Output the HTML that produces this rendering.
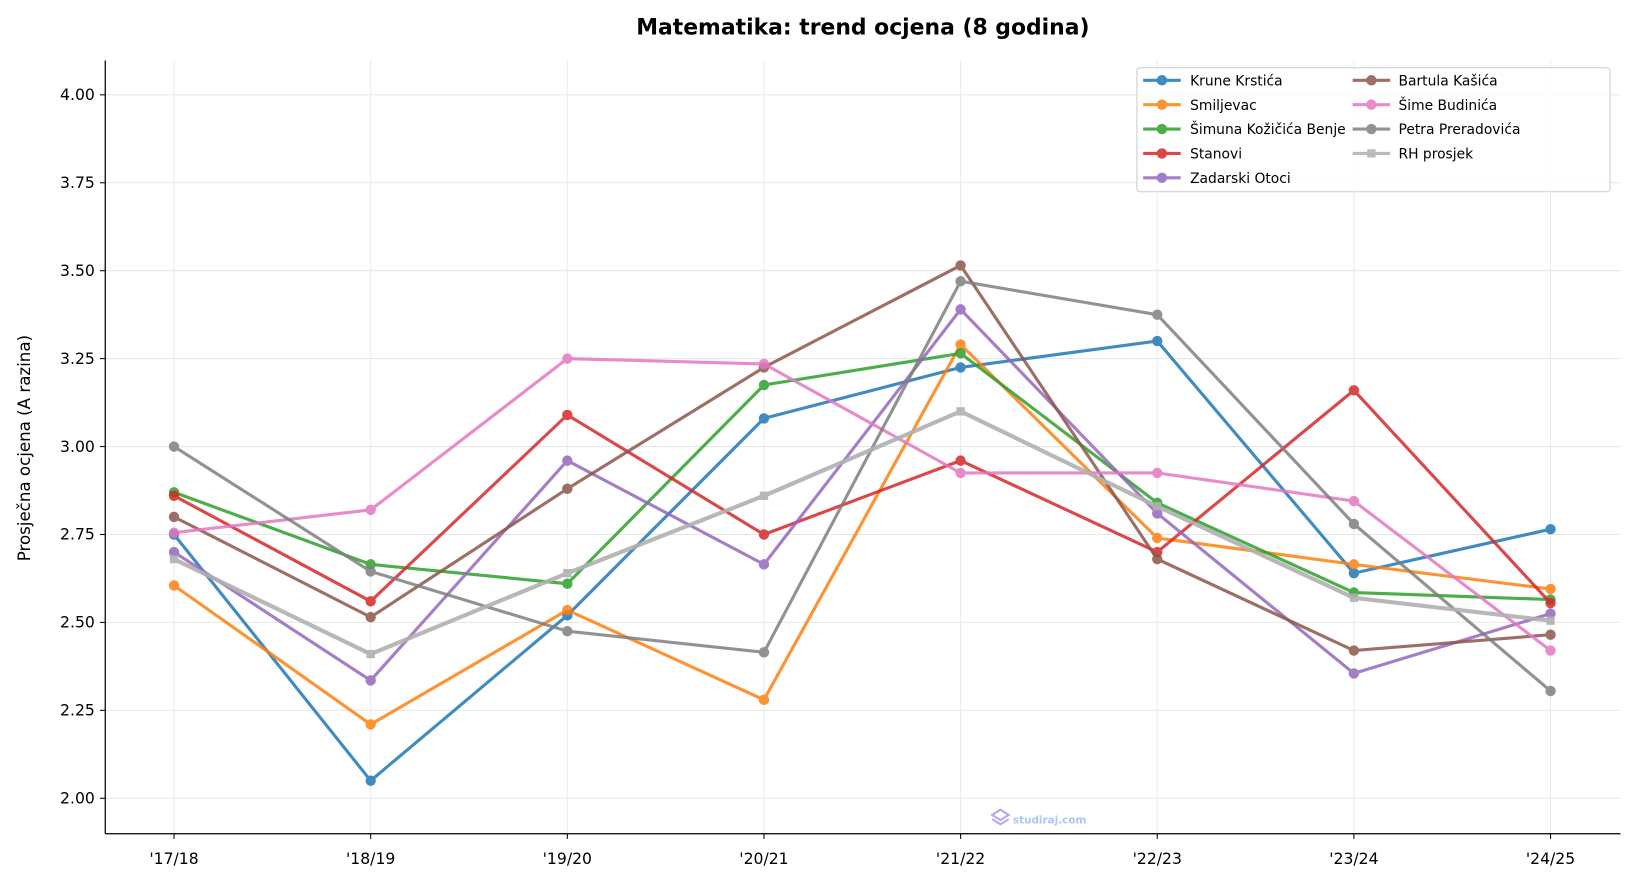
<!DOCTYPE html>
<html><head><meta charset="utf-8"><style>
body{margin:0;background:#fff;}
svg{display:block;font-family:"DejaVu Sans","Liberation Sans",sans-serif;}
</style></head><body>
<svg id="s" width="1634" height="883" viewBox="0 0 1568 847.3" xmlns="http://www.w3.org/2000/svg">
<text x="828" y="33" text-anchor="middle" font-size="21" font-weight="bold">Matematika: trend ocjena (8 godina)</text>
<text transform="translate(29,430) rotate(-90)" text-anchor="middle" font-size="16">Prosječna ocjena (A razina)</text>
<g id="grid"></g><g id="series"></g>
<text x="972" y="790" font-size="10" font-weight="bold" fill="#a9c8f5">studiraj.com</text>
<path d="M952 782 l8 -5 l8 5 l-8 5 z M952 786 l8 5 l8 -5" fill="none" stroke="#b9a8f0" stroke-width="2"/>
<line x1="101" y1="58" x2="101" y2="800" stroke="#000" stroke-width="1.2"/>
<line x1="101" y1="800" x2="1555" y2="800" stroke="#000" stroke-width="1.2"/>
<g id="leg"></g>
</svg>
<script>
const NS="http://www.w3.org/2000/svg";
function el(p,t,a,txt){const e=document.createElementNS(NS,t);for(const k in a)e.setAttribute(k,a[k]);if(txt!==undefined)e.textContent=txt;document.getElementById(p).appendChild(e);return e;}
const X=i=>167+i*188.7, Y=v=>766-(v-2)*337.5;
const xl=["'17/18","'18/19","'19/20","'20/21","'21/22","'22/23","'23/24","'24/25"];
for(let i=0;i<8;i++){el("grid","line",{x1:X(i),y1:58,x2:X(i),y2:800,stroke:"#ebebeb","stroke-width":1});
el("grid","line",{x1:X(i),y1:800,x2:X(i),y2:805,stroke:"#000"});
el("grid","text",{x:X(i),y:829,"text-anchor":"middle","font-size":15},xl[i]);}
for(let k=0;k<9;k++){const v=2+k*0.25,y=Y(v);
el("grid","line",{x1:101,y1:y,x2:1555,y2:y,stroke:"#e6e6e6","stroke-width":1});
el("grid","line",{x1:96,y1:y,x2:101,y2:y,stroke:"#000"});
el("grid","text",{x:91,y:y+5,"text-anchor":"end","font-size":15},v.toFixed(2));}
const S=[
["Krune Krstića","#1f77b4",[2.75,2.05,2.52,3.08,3.225,3.30,2.64,2.765]],
["Smiljevac","#ff7f0e",[2.605,2.21,2.535,2.28,3.29,2.74,2.665,2.595]],
["Šimuna Kožičića Benje","#2ca02c",[2.87,2.665,2.61,3.175,3.265,2.84,2.585,2.565]],
["Stanovi","#d62728",[2.86,2.56,3.09,2.75,2.96,2.70,3.16,2.555]],
["Zadarski Otoci","#9467bd",[2.70,2.335,2.96,2.665,3.39,2.81,2.355,2.525]],
["Bartula Kašića","#8c564b",[2.80,2.515,2.88,3.225,3.515,2.68,2.42,2.465]],
["Šime Budinića","#e377c2",[2.755,2.82,3.25,3.235,2.925,2.925,2.845,2.42]],
["Petra Preradovića","#7f7f7f",[3.00,2.645,2.475,2.415,3.47,3.375,2.78,2.305]],
["RH prosjek","#b0b0b0",[2.68,2.41,2.64,2.86,3.10,2.83,2.57,2.505]]];
S.forEach((s,j)=>{const g=el("series","g",{opacity:j==8?0.9:0.85});
const pts=s[2].map((v,i)=>X(i)+","+Y(v)).join(" ");
const p=document.createElementNS(NS,"polyline");p.setAttribute("points",pts);p.setAttribute("fill","none");p.setAttribute("stroke",s[1]);p.setAttribute("stroke-width",j==8?4:3);g.appendChild(p);
s[2].forEach((v,i)=>{let m;if(j==8){m=document.createElementNS(NS,"rect");m.setAttribute("x",X(i)-4);m.setAttribute("y",Y(v)-4);m.setAttribute("width",8);m.setAttribute("height",8);}else{m=document.createElementNS(NS,"circle");m.setAttribute("cx",X(i));m.setAttribute("cy",Y(v));m.setAttribute("r",5);}m.setAttribute("fill",s[1]);g.appendChild(m);});});
el("leg","rect",{x:1091,y:65,width:454,height:119,fill:"#fff","fill-opacity":0.8,stroke:"#ccc",rx:3});
S.forEach((s,j)=>{const c=j<5?0:1,r=j<5?j:j-5;const lx=c?1298:1097,tx=c?1342:1142,y=77+r*23.4;
const g=el("leg","g",{opacity:0.85});
const l=document.createElementNS(NS,"line");l.setAttribute("x1",lx);l.setAttribute("x2",lx+36);l.setAttribute("y1",y);l.setAttribute("y2",y);l.setAttribute("stroke",s[1]);l.setAttribute("stroke-width",3);g.appendChild(l);
let m;if(j==8){m=document.createElementNS(NS,"rect");m.setAttribute("x",lx+14);m.setAttribute("y",y-4);m.setAttribute("width",8);m.setAttribute("height",8);}else{m=document.createElementNS(NS,"circle");m.setAttribute("cx",lx+18);m.setAttribute("cy",y);m.setAttribute("r",5);}m.setAttribute("fill",s[1]);g.appendChild(m);
el("leg","text",{x:tx,y:y+5,"font-size":13.3},s[0]);});
</script>
</body></html>
